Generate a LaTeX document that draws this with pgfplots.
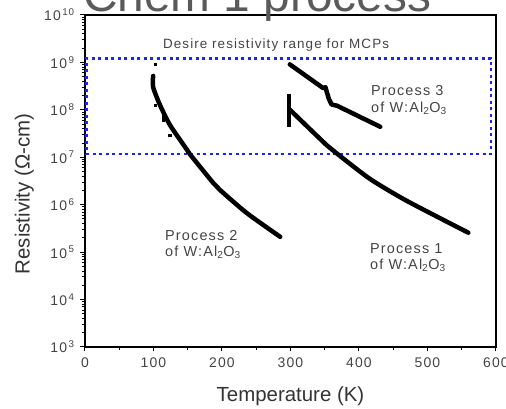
\documentclass[border=0pt]{standalone}
\usepackage{pgfplots}
\pgfplotsset{compat=1.18}
\usepackage{fontspec}
\setmainfont{Liberation Sans}
\newfontfamily\ls{Liberation Sans}[LetterSpace=8]
\definecolor{txt}{HTML}{444444}
\definecolor{lbl}{HTML}{333333}
\definecolor{ttl}{HTML}{5A5A5A}
\definecolor{mcpblue}{HTML}{1F1FFF}
\newcommand{\tp}[1]{10\hspace{1.5bp}\textsuperscript{#1}}
\begin{document}
\begin{tikzpicture}
\begin{axis}[
  at={(0,0)}, anchor=south west,
  width=411bp, height=332bp, scale only axis,
  xmin=0, xmax=600, ymin=1e3, ymax=1e10, ymode=log,
  clip=false,
  /pgf/number format/assume math mode=true,
  axis line style={line width=1.1bp, black},
  tick pos=left, tick align=outside,
  xtick={0,100,...,600},
  minor xtick={50,150,...,550},
  ytick={1e3,1e4,1e5,1e6,1e7,1e8,1e9,1e10},
  yticklabels={\tp{3},\tp{4},\tp{5},\tp{6},\tp{7},\tp{8},\tp{9},\tp{10}},
  major tick length=4.5bp, minor tick length=3.3bp,
  every tick/.style={black, line width=1bp},
  xticklabel style={font=\ls\fontsize{14}{16}\selectfont, text=txt, yshift=-3bp},
  yticklabel style={font=\ls\fontsize{14}{16}\selectfont, text=txt, xshift=-2.5bp},
  xlabel={Temperature (K)},
  ylabel={Resistivity (Ω-cm)},
  xlabel style={at={(axis description cs:0.5,0)}, anchor=base, yshift=-54bp, font=\fontsize{20.5}{22}\selectfont, text=lbl},
  ylabel style={at={(axis description cs:-0.135,0.461)}, anchor=base, font=\fontsize{20.5}{22}\selectfont, text=lbl},
]
% desired range box
\addplot[mcpblue, line width=2.4bp, dash pattern=on 3bp off 3.5bp] coordinates {(2,1.17e7) (593,1.17e7) (593,1.22e9) (2,1.22e9)} -- cycle;

% Process 2
\addplot[black, line width=4.5bp, line join=round, line cap=round, smooth, tension=0.4] coordinates {
(99.5,5.2e8) (99.5,3.0e8) (109.5,1.26e8) (124,4.8e7) (146,1.65e7) (153,1.17e7) (187,2.9e6) (197,2.05e6) (236,6.7e5) (285,2.1e5)};
\addplot[black, line width=3.2bp] coordinates {(114.3,1.0e8) (114.3,5.6e7)};
\addplot[black, line width=2.4bp] coordinates {(103,9.9e8) (103,8.6e8)};
\addplot[black, line width=2.4bp] coordinates {(103.2,1.35e8) (103.2,1.16e8)};
\addplot[black, line width=2.4bp] coordinates {(121.5,2.9e7) (127,2.9e7)};

% Process 1
\addplot[black, line width=3.2bp] coordinates {(297.8,2.2e8) (297.8,4.4e7)};
\addplot[black, line width=4.5bp, line join=round, line cap=round, smooth, tension=0.4] coordinates {
(299.3,1.0e8) (352.8,1.8e7) (367.4,1.21e7) (416,3.5e6) (470,1.2e6) (559.6,2.57e5)};

% Process 3
\addplot[black, line width=4.5bp, line join=round, line cap=round] coordinates {
(299,9.1e8) (348,2.85e8) (351,3.0e8) (356,1.7e8) (360,1.3e8) (368,1.22e8) (431,4.4e7)};

% annotations
\node[anchor=base, font=\ls\fontsize{13.5}{15}\selectfont, text=txt] at (axis cs:279,1.92e9) {Desire resistivity range for MCPs};
\node[anchor=base west, inner sep=0, font=\ls\fontsize{14.5}{16}\selectfont, text=txt] at (axis cs:417.5,1.96e8) {Process 3};
\node[anchor=base west, inner sep=0, font=\ls\fontsize{14.5}{16}\selectfont, text=txt] at (axis cs:417.5,8.9e7) {of W:Al\textsubscript{2}O\textsubscript{3}};
\node[anchor=base west, inner sep=0, font=\ls\fontsize{14.5}{16}\selectfont, text=txt] at (axis cs:116.8,1.72e5) {Process 2};
\node[anchor=base west, inner sep=0, font=\ls\fontsize{14.5}{16}\selectfont, text=txt] at (axis cs:116.8,8.1e4) {of W:Al\textsubscript{2}O\textsubscript{3}};
\node[anchor=base west, inner sep=0, font=\ls\fontsize{14.5}{16}\selectfont, text=txt] at (axis cs:416,9.4e4) {Process 1};
\node[anchor=base west, inner sep=0, font=\ls\fontsize{14.5}{16}\selectfont, text=txt] at (axis cs:416,4.3e4) {of W:Al\textsubscript{2}O\textsubscript{3}};

% title (cut at top as in reference)
\node[anchor=base west, inner sep=0, font=\fontsize{48}{52}\selectfont, text=ttl] at ([xshift=-2bp,yshift=3bp]rel axis cs:0,1) {Chem 1 process};
\end{axis}
\pgfresetboundingbox
\path[use as bounding box] (-85bp,-62bp) rectangle (421bp,347bp);
\end{tikzpicture}
\end{document}
